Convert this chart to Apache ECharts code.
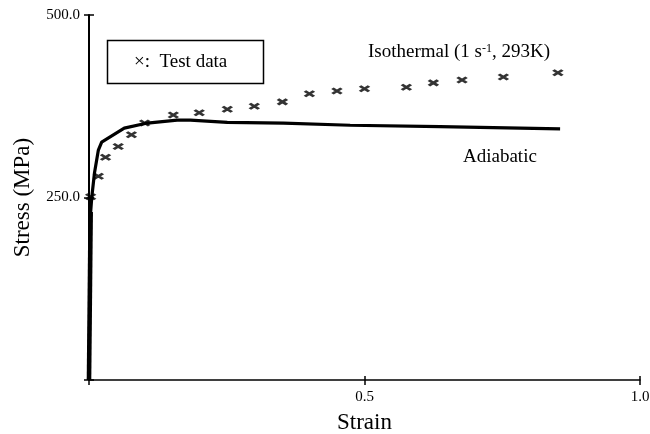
<!DOCTYPE html>
<html>
<head>
<meta charset="utf-8">
<script src="https://cdn.jsdelivr.net/npm/echarts@6/dist/echarts.min.js"></script>
<style>
  html, body { margin: 0; padding: 0; background: #fff; }
  #chart { width: 650px; height: 434px; }
</style>
</head>
<body>
<div id="chart"></div>
<script>
// Test data (strain, stress in MPa)
const testStrain = [0.003, 0.017, 0.030, 0.053, 0.077, 0.101, 0.153, 0.200, 0.251, 0.300, 0.351, 0.400, 0.450, 0.500, 0.576, 0.625, 0.677, 0.752, 0.851];
const testStress = [251, 279, 305, 320, 336, 352, 363, 366, 371, 375, 381, 392, 396, 399, 401, 407, 411, 415, 421];

// Adiabatic simulation curve
const adiaStrain = [0, 0.003, 0.005, 0.010, 0.017, 0.023, 0.064, 0.106, 0.160, 0.184, 0.251, 0.353, 0.474, 0.637, 0.855];
const adiaStress = [0, 230, 250, 284, 315, 326, 345, 352, 356, 356, 353, 352, 349, 347, 344];

// Axis ticks
const xTicks = [0, 0.5, 1.0];
const yTicks = [0, 250, 500];

const FONT = "'Liberation Serif', 'Times New Roman', serif";

const pair = (xs, ys) => xs.map((x, i) => [x, ys[i]]);
const adiaData = pair(adiaStrain, adiaStress);

const chart = echarts.init(document.getElementById('chart'), null, { renderer: 'canvas' });

const axisCommon = {
  axisLine: { show: true, lineStyle: { color: '#000', width: 1.5 } },
  axisTick: { show: true, length: 5, lineStyle: { color: '#000', width: 1.5 } },
  splitLine: { show: false }
};

chart.setOption({
  animation: false,
  backgroundColor: '#fff',
  grid: { left: 89, right: 10, top: 15, bottom: 54, containLabel: false, outerBoundsMode: 'none' },
  xAxis: [
    Object.assign({}, axisCommon, {
      type: 'value',
      min: xTicks[0], max: xTicks[xTicks.length - 1], interval: xTicks[1] - xTicks[0],
      name: 'Strain', nameLocation: 'middle', nameGap: 31,
      nameTextStyle: { fontFamily: FONT, fontSize: 23, color: '#000' },
      axisLabel: {
        fontFamily: FONT, fontSize: 15, color: '#000', margin: 10,
        formatter: v => (v === 0 ? '' : v.toFixed(1))
      }
    }),
    {
      type: 'value', position: 'bottom', gridIndex: 0,
      min: xTicks[0], max: xTicks[xTicks.length - 1], interval: xTicks[1] - xTicks[0],
      axisLine: { show: false }, axisLabel: { show: false }, splitLine: { show: false },
      axisTick: { show: true, inside: true, length: 4, lineStyle: { color: '#000', width: 1.5 } }
    }
  ],
  yAxis: [
    Object.assign({}, axisCommon, {
      type: 'value',
      min: yTicks[0], max: yTicks[yTicks.length - 1], interval: yTicks[1] - yTicks[0],
      axisLine: { show: true, lineStyle: { color: '#000', width: 2 } },
      name: 'Stress (MPa)', nameLocation: 'middle', nameGap: 55,
      nameTextStyle: { fontFamily: FONT, fontSize: 23, color: '#000' },
      axisLabel: {
        fontFamily: FONT, fontSize: 15, color: '#000', margin: 9,
        formatter: v => (v === 0 ? '' : v.toFixed(1))
      }
    }),
    {
      type: 'value', position: 'left', gridIndex: 0,
      min: yTicks[0], max: yTicks[yTicks.length - 1], interval: yTicks[1] - yTicks[0],
      axisLine: { show: false }, axisLabel: { show: false }, splitLine: { show: false },
      axisTick: { show: true, inside: true, length: 5, lineStyle: { color: '#000', width: 1.5 } }
    }
  ],
  series: [
    {
      name: 'Adiabatic',
      type: 'line',
      data: adiaData,
      showSymbol: false,
      smooth: false,
      clip: false,
      lineStyle: { color: '#000', width: 3.2 },
      z: 3
    },
    {
      // elastic leg of the same curve, where the test points pile up along the axis
      name: 'Adiabatic elastic',
      type: 'line',
      data: adiaData.slice(0, 2),
      showSymbol: false,
      clip: false,
      lineStyle: { color: '#000', width: 4.6 },
      z: 3
    },
    {
      name: 'Test data',
      type: 'scatter',
      data: pair(testStrain, testStress),
      symbol: 'path://M0,0L10,6M10,0L0,6',
      symbolSize: [9, 5.5],
      itemStyle: { color: 'rgba(0,0,0,0)', borderColor: '#000', borderWidth: 2.8 },
      z: 4
    }
  ],
  graphic: [
    {
      type: 'rect',
      shape: { x: 107.5, y: 40.5, width: 156, height: 43 },
      style: { fill: '#fff', stroke: '#000', lineWidth: 1.5 },
      z: 10
    },
    {
      type: 'text',
      left: 134, top: 53,
      style: { text: '\u00d7:  Test data', font: '19px ' + FONT, fill: '#000' },
      z: 11
    },
    {
      type: 'text',
      left: 368, top: 43,
      style: {
        text: 'Isothermal (1 s{sup|-1}, 293K)',
        font: '19px ' + FONT, fill: '#000',
        rich: { sup: { fontSize: 12, fontFamily: FONT, verticalAlign: 'top', lineHeight: 14, fill: '#000' } }
      },
      z: 11
    },
    {
      type: 'text',
      left: 463, top: 148,
      style: { text: 'Adiabatic', font: '19px ' + FONT, fill: '#000' },
      z: 11
    }
  ]
});
</script>
</body>
</html>
